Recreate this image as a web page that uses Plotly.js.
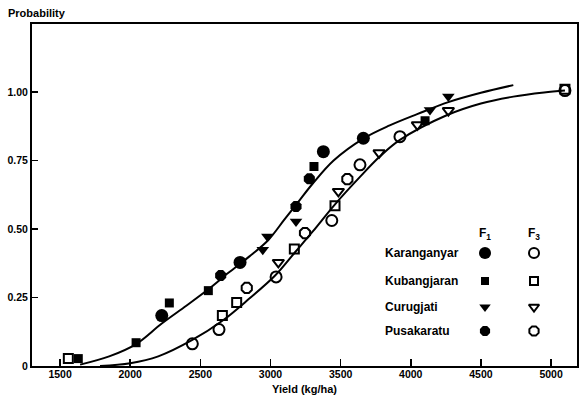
<!DOCTYPE html>
<html>
<head>
<meta charset="utf-8">
<script src="https://cdn.plot.ly/plotly-3.0.1.min.js"></script>
<style>html,body{margin:0;padding:0;background:#fff}#chart{width:581px;height:399px}</style>
</head>
<body>
<div id="chart"></div>
<script>
// ---- data ----
const sites = ["Karanganyar", "Kubangjaran", "Curugjati", "Pusakaratu"];
const tickVals = [1500, 2000, 2500, 3000, 3500, 4000, 4500, 5000];
const yTickVals = [0, 0.25, 0.5, 0.75, 1.0];
const yTickText = ["0", "0.25", "0.50", "0.75", "1.00"];

// F1 observations (filled symbols)
const f1KaranganyarX = [2225, 2783, 3377, 3662];
const f1KaranganyarY = [0.184, 0.378, 0.782, 0.831];
const f1KubangjaranX = [1630, 2042, 2279, 2557, 3310, 4102];
const f1KubangjaranY = [0.027, 0.085, 0.23, 0.275, 0.728, 0.895];
const f1CurugjatiX = [2945, 2978, 3182, 4137, 4268];
const f1CurugjatiY = [0.424, 0.473, 0.527, 0.934, 0.983];
const f1PusakaratuX = [2645, 3182, 3277];
const f1PusakaratuY = [0.33, 0.582, 0.683];

// F3 observations (open symbols)
const f3KaranganyarX = [2443, 2633, 3040, 3437, 3638, 3923, 5099];
const f3KaranganyarY = [0.081, 0.133, 0.325, 0.531, 0.734, 0.837, 1.005];
const f3KubangjaranX = [1559, 2657, 2759, 3170, 3460, 5099];
const f3KubangjaranY = [0.027, 0.184, 0.232, 0.427, 0.585, 1.01];
const f3CurugjatiX = [3056, 3484, 3774, 4047, 4268];
const f3CurugjatiY = [0.378, 0.637, 0.778, 0.88, 0.932];
const f3PusakaratuX = [2831, 3246, 3548];
const f3PusakaratuY = [0.285, 0.485, 0.682];

// fitted curves
const f1CurveX = [1643, 1850, 2042, 2225, 2400, 2557, 2700, 2850, 2985, 3100, 3200, 3300, 3450, 3662, 3850, 4050, 4268, 4500, 4731];
const f1CurveY = [0.005, 0.035, 0.08, 0.155, 0.22, 0.28, 0.34, 0.4, 0.46, 0.535, 0.6, 0.665, 0.75, 0.83, 0.878, 0.92, 0.963, 0.997, 1.025];
const f3CurveX = [1785, 2000, 2200, 2443, 2657, 2847, 3033, 3175, 3300, 3460, 3638, 3781, 3923, 4256, 4500, 4731, 4950, 5099];
const f3CurveY = [0.0, 0.01, 0.035, 0.095, 0.165, 0.245, 0.33, 0.415, 0.49, 0.59, 0.69, 0.765, 0.825, 0.915, 0.958, 0.983, 0.998, 1.005];

// ---- styles ----
const FONT = "Liberation Sans, Arial, sans-serif";
const symF1 = ["circle", "square", "triangle-down", "octagon"];
const symF3 = ["circle-open", "square-open", "triangle-down-open", "octagon-open"];
const sizeF1 = [13, 9, 11, 12];
const sizeF3 = [11, 9, 10, 11];

const f1X = [f1KaranganyarX, f1KubangjaranX, f1CurugjatiX, f1PusakaratuX];
const f1Y = [f1KaranganyarY, f1KubangjaranY, f1CurugjatiY, f1PusakaratuY];
const f3X = [f3KaranganyarX, f3KubangjaranX, f3CurugjatiX, f3PusakaratuX];
const f3Y = [f3KaranganyarY, f3KubangjaranY, f3CurugjatiY, f3PusakaratuY];

const traces = [];
traces.push({x: f1CurveX, y: f1CurveY, mode: "lines", line: {color: "#000", width: 2, shape: "spline", smoothing: 1}, hoverinfo: "skip"});
traces.push({x: f3CurveX, y: f3CurveY, mode: "lines", line: {color: "#000", width: 2, shape: "spline", smoothing: 1}, hoverinfo: "skip"});
sites.forEach((s, i) => {
  traces.push({x: f1X[i], y: f1Y[i], name: s + " F1", mode: "markers",
    marker: {symbol: symF1[i], size: sizeF1[i], color: "#000"}});
  traces.push({x: f3X[i], y: f3Y[i], name: s + " F3", mode: "markers",
    marker: {symbol: symF3[i], size: sizeF3[i], color: "#000", line: {color: "#000", width: 2}}});
});

// legend drawn on a pixel-like overlay axis
const legRowY = [253, 281, 307, 331];
const legColF1 = 485, legColF3 = 534, legTextX = 383, legHeadY = 234;
sites.forEach((s, i) => {
  traces.push({x: [legColF1], y: [legRowY[i]], xaxis: "x2", yaxis: "y2", mode: "markers",
    marker: {symbol: symF1[i], size: sizeF1[i] - 1, color: "#000"}, hoverinfo: "skip"});
  traces.push({x: [legColF3], y: [legRowY[i]], xaxis: "x2", yaxis: "y2", mode: "markers",
    marker: {symbol: symF3[i], size: sizeF3[i] - 1, color: "#000", line: {color: "#000", width: 2}}, hoverinfo: "skip"});
});

const annotations = [
  {text: "Probability", xref: "paper", yref: "paper", x: -0.047, y: 1.032, xanchor: "left", yanchor: "middle",
   showarrow: false, font: {family: FONT, size: 11, color: "#000", weight: "bold"}},
  {text: "Yield (kg/ha)", xref: "paper", yref: "paper", x: 0.5, y: -0.068, xanchor: "center", yanchor: "middle",
   showarrow: false, font: {family: FONT, size: 11, color: "#000", weight: "bold"}},
  {text: "F<sub>1</sub>", xref: "x2", yref: "y2", x: legColF1, y: legHeadY, showarrow: false,
   font: {family: FONT, size: 12, color: "#000", weight: "bold"}},
  {text: "F<sub>3</sub>", xref: "x2", yref: "y2", x: legColF3, y: legHeadY, showarrow: false,
   font: {family: FONT, size: 12, color: "#000", weight: "bold"}}
];
sites.forEach((s, i) => {
  annotations.push({text: s, xref: "x2", yref: "y2", x: legTextX, y: legRowY[i], xanchor: "left", yanchor: "middle",
    showarrow: false, font: {family: FONT, size: 12, color: "#000", weight: "bold"}});
});

const layout = {
  width: 581, height: 399,
  margin: {l: 32, r: 4, t: 24, b: 33},
  paper_bgcolor: "#fff", plot_bgcolor: "#fff",
  showlegend: false,
  font: {family: FONT, color: "#000"},
  xaxis: {range: [1300, 5185], tickvals: tickVals, ticks: "inside", ticklen: 7, tickwidth: 1.5, tickcolor: "#000",
    ticklabelstandoff: -3,
    showline: true, linecolor: "#000", linewidth: 2, mirror: true, showgrid: false, zeroline: false,
    tickfont: {family: FONT, size: 10.5, color: "#000", weight: "bold"}},
  yaxis: {range: [0, 1.248], tickvals: yTickVals, ticktext: yTickText, ticks: "inside", ticklen: 6, tickwidth: 1.5, tickcolor: "#000",
    showline: true, linecolor: "#000", linewidth: 2, mirror: true, showgrid: false, zeroline: false,
    tickfont: {family: FONT, size: 10.5, color: "#000", weight: "bold"}},
  xaxis2: {overlaying: "x", range: [32, 577], visible: false, fixedrange: true},
  yaxis2: {overlaying: "y", range: [366, 24], visible: false, fixedrange: true},
  annotations: annotations
};

Plotly.newPlot("chart", traces, layout, {staticPlot: true});
</script>
</body>
</html>
